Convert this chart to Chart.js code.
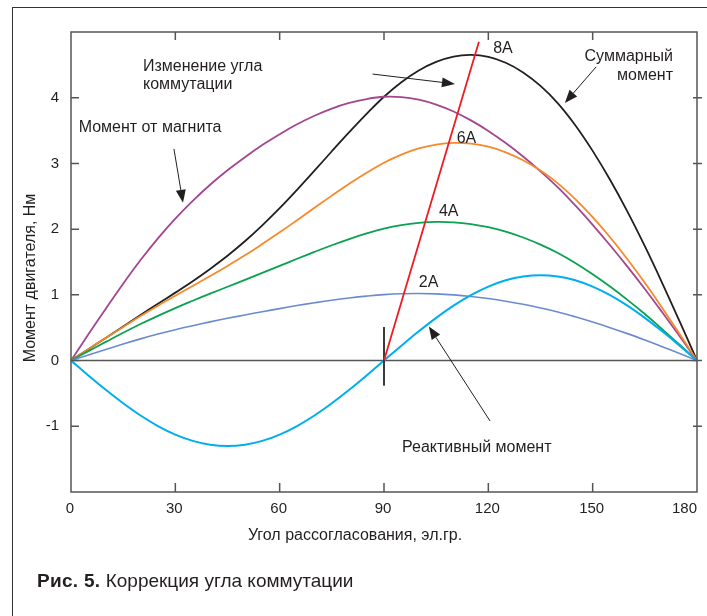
<!DOCTYPE html>
<html>
<head>
<meta charset="utf-8">
<script src="https://cdn.jsdelivr.net/npm/chart.js"></script>
<style>
    html, body { margin: 0; padding: 0; background: #fff; }
    #wrap { position: relative; width: 707px; height: 616px; overflow: hidden; }
    #frame { position: absolute; left: 12px; top: 7px; width: 800px; height: 700px;
             border-top: 1.5px solid #333; border-left: 1.5px solid #333; }
    #graph { position: absolute; left: 0; top: 0; }
    #caption { position: absolute; left: 37px; top: 570px; color: #231f20;
               font: 19px "Liberation Sans", Arial, sans-serif; white-space: nowrap; }
    #caption b { font-weight: 900; letter-spacing: 0.3px; }
</style>
</head>
<body>
<div id="wrap">
    <div id="frame"></div>
    <canvas id="graph" width="707" height="616"></canvas>
    <div id="caption"><b>Рис. 5.</b> Коррекция угла коммутации</div>
</div>
<script>
// angle, el. degrees
const angles = [0, 5, 10, 15, 20, 25, 30, 35, 40, 45, 50, 55, 60, 65, 70, 75, 80, 85, 90,
    95, 100, 105, 110, 115, 120, 125, 130, 135, 140, 145, 150, 155, 160, 165, 170, 175, 180];

// torque, Nm
const magnetMoment = [0, 0.40, 0.79, 1.17, 1.53, 1.86, 2.16, 2.43, 2.675, 2.895, 3.095, 3.28, 3.445, 3.595, 3.725, 3.835, 3.92, 3.98, 4.015,
    4.01, 3.97, 3.895, 3.79, 3.655, 3.495, 3.31, 3.105, 2.88, 2.635, 2.36, 2.065, 1.755, 1.43, 1.09, 0.735, 0.37, 0];
const reactiveMoment = [0, -0.226, -0.445, -0.65, -0.836, -0.996, -1.126, -1.222, -1.28, -1.30, -1.28, -1.222, -1.126, -0.996, -0.836, -0.65, -0.445, -0.226, 0,
    0.226, 0.445, 0.65, 0.836, 0.996, 1.126, 1.222, 1.28, 1.30, 1.28, 1.222, 1.126, 0.996, 0.836, 0.65, 0.445, 0.226, 0];
const total8A = [0, 0.174, 0.345, 0.52, 0.694, 0.864, 1.034, 1.208, 1.395, 1.595, 1.815, 2.058, 2.319, 2.599, 2.889, 3.185, 3.475, 3.754, 4.015,
    4.236, 4.415, 4.545, 4.626, 4.651, 4.621, 4.532, 4.385, 4.18, 3.915, 3.582, 3.191, 2.751, 2.266, 1.74, 1.18, 0.596, 0];
const total6A = [0, 0.173, 0.343, 0.512, 0.678, 0.835, 0.987, 1.136, 1.286, 1.44, 1.601, 1.773, 1.951, 2.136, 2.324, 2.51, 2.69, 2.858, 3.011,
    3.135, 3.228, 3.287, 3.313, 3.301, 3.254, 3.169, 3.049, 2.891, 2.696, 2.457, 2.182, 1.876, 1.543, 1.184, 0.801, 0.405, 0];
const total4A = [0, 0.144, 0.284, 0.423, 0.556, 0.681, 0.799, 0.91, 1.018, 1.123, 1.228, 1.335, 1.441, 1.549, 1.654, 1.755, 1.849, 1.934, 2.008,
    2.062, 2.096, 2.11, 2.104, 2.077, 2.029, 1.961, 1.873, 1.765, 1.638, 1.486, 1.314, 1.127, 0.924, 0.708, 0.477, 0.242, 0];
const total2A = [0, 0.086, 0.17, 0.252, 0.33, 0.403, 0.47, 0.531, 0.589, 0.643, 0.694, 0.744, 0.791, 0.837, 0.879, 0.918, 0.952, 0.981, 1.004,
    1.017, 1.02, 1.015, 1.0, 0.976, 0.944, 0.904, 0.856, 0.801, 0.739, 0.666, 0.586, 0.501, 0.41, 0.313, 0.212, 0.107, 0];

// commutation angle line and the mark at 90
const commAngles = [90, 117.3];
const commValues = [0, 4.85];
const markAngles = [90, 90];
const markValues = [0.51, -0.38];

const xTicks = [0, 30, 60, 90, 120, 150, 180];
const yTicks = [-1, 0, 1, 2, 3, 4];

const FONT = '"Liberation Sans", Arial, sans-serif';

const toPoints = (xs, ys) => xs.map((a, i) => ({ x: a, y: ys[i] }));

function curve(values, color, width) {
    return {
        data: toPoints(angles, values),
        borderColor: color,
        borderWidth: width,
        pointRadius: 0,
        tension: 0.4,
        fill: false
    };
}

// annotations in data coordinates
const labels = [
    { text: "Изменение угла", x: 20.7, y: 4.47, align: "left" },
    { text: "коммутации", x: 20.7, y: 4.20, align: "left" },
    { text: "Момент от магнита", x: 2.2, y: 3.54, align: "left" },
    { text: "Суммарный", x: 173.1, y: 4.62, align: "right" },
    { text: "момент", x: 173.1, y: 4.33, align: "right" },
    { text: "8A", x: 121.4, y: 4.75, align: "left" },
    { text: "6A", x: 110.9, y: 3.38, align: "left" },
    { text: "4A", x: 105.8, y: 2.27, align: "left" },
    { text: "2A", x: 100.0, y: 1.18, align: "left" },
    { text: "Реактивный момент", x: 95.2, y: -1.33, align: "left" }
];
const arrows = [
    { from: [86.7, 4.36], to: [110.4, 4.21] },
    { from: [29.6, 3.22], to: [32.2, 2.40] },
    { from: [151.0, 4.47], to: [142.0, 3.92] },
    { from: [120.5, -0.92], to: [102.9, 0.52] }
];

const decor = {
    id: "decor",
    beforeDatasetsDraw(chart) {
        const { ctx, chartArea: a, scales: { y } } = chart;
        const y0 = y.getPixelForValue(0);
        ctx.save();
        ctx.strokeStyle = "#555";
        ctx.lineWidth = 1.5;
        ctx.beginPath();
        ctx.moveTo(a.left, y0);
        ctx.lineTo(a.right, y0);
        ctx.stroke();
        ctx.restore();
    },
    afterDatasetsDraw(chart) {
        const { ctx, chartArea: a, scales: { x, y } } = chart;
        ctx.save();
        ctx.strokeStyle = "#555";
        ctx.lineWidth = 1.5;
        ctx.strokeRect(a.left, a.top, a.right - a.left, a.bottom - a.top);

        ctx.beginPath();
        xTicks.forEach(v => {
            if (v === 0 || v === 180) return;
            const px = x.getPixelForValue(v);
            ctx.moveTo(px, a.top); ctx.lineTo(px, a.top + 8);
            ctx.moveTo(px, a.bottom); ctx.lineTo(px, a.bottom - 9);
        });
        yTicks.forEach(v => {
            const py = y.getPixelForValue(v);
            ctx.moveTo(a.left, py); ctx.lineTo(a.left + 8, py);
            ctx.moveTo(a.right - 4, py); ctx.lineTo(a.right + 5, py);
        });
        ctx.stroke();

        // x tick labels, the last one kept inside the frame
        ctx.fillStyle = "#231f20";
        ctx.font = "15px " + FONT;
        ctx.textBaseline = "middle";
        xTicks.forEach(v => {
            ctx.textAlign = v === 180 ? "right" : "center";
            const px = v === 180 ? a.right : x.getPixelForValue(v) - 1;
            ctx.fillText(String(v), px, a.bottom + 17);
        });

        // arrows
        ctx.strokeStyle = "#231f20";
        ctx.lineWidth = 1;
        arrows.forEach(ar => {
            const x1 = x.getPixelForValue(ar.from[0]), y1 = y.getPixelForValue(ar.from[1]);
            const x2 = x.getPixelForValue(ar.to[0]), y2 = y.getPixelForValue(ar.to[1]);
            const ang = Math.atan2(y2 - y1, x2 - x1);
            const len = 13, half = 5;
            const bx = x2 - len * Math.cos(ang), by = y2 - len * Math.sin(ang);
            ctx.beginPath();
            ctx.moveTo(x1, y1); ctx.lineTo(bx, by);
            ctx.stroke();
            ctx.beginPath();
            ctx.moveTo(x2, y2);
            ctx.lineTo(bx + half * Math.sin(ang), by - half * Math.cos(ang));
            ctx.lineTo(bx - half * Math.sin(ang), by + half * Math.cos(ang));
            ctx.closePath();
            ctx.fill();
        });

        // labels
        ctx.font = "16px " + FONT;
        labels.forEach(l => {
            ctx.textAlign = l.align;
            ctx.fillText(l.text, x.getPixelForValue(l.x), y.getPixelForValue(l.y));
        });

        // axis titles
        ctx.textAlign = "center";
        ctx.fillText("Угол рассогласования, эл.гр.", 355, 536);
        ctx.translate(31, 278);
        ctx.rotate(-Math.PI / 2);
        ctx.fillText("Момент двигателя, Нм", 0, 0);
        ctx.restore();
    }
};

const chartEl = document.querySelector("#graph").getContext("2d");

const options = {
    type: "line",
    data: {
        datasets: [
            { data: toPoints(commAngles, commValues), borderColor: "#ed1c24", borderWidth: 1.8, pointRadius: 0, tension: 0 },
            { data: toPoints(markAngles, markValues), borderColor: "#231f20", borderWidth: 1, pointRadius: 0, tension: 0 },
            curve(reactiveMoment, "#00aeef", 2),
            curve(total2A, "#6b8bd0", 1.6),
            curve(total4A, "#0aa14f", 1.8),
            curve(total6A, "#f7892a", 1.8),
            curve(magnetMoment, "#a3468f", 1.8),
            curve(total8A, "#231f20", 1.8)
        ]
    },
    options: {
        responsive: false,
        animation: false,
        events: [],
        layout: { padding: { left: 0, right: 10, top: 32, bottom: 0 } },
        plugins: { legend: { display: false }, tooltip: { enabled: false } },
        scales: {
            x: {
                type: "linear",
                min: 0,
                max: 180,
                grid: { display: false, drawTicks: false },
                border: { display: false },
                ticks: { display: false, stepSize: 30 },
                afterFit(scale) {
                    scale.height = 124;
                    scale.paddingLeft = 0;
                    scale.paddingRight = 0;
                }
            },
            y: {
                min: -2,
                max: 5,
                grid: { display: false, drawTicks: false },
                border: { display: false },
                ticks: {
                    stepSize: 1,
                    padding: 12,
                    color: "#231f20",
                    font: { family: FONT, size: 15 },
                    callback: v => (yTicks.includes(v) ? String(v) : "")
                },
                afterFit(scale) {
                    scale.width = 71;
                    scale.paddingTop = 0;
                    scale.paddingBottom = 0;
                }
            }
        }
    },
    plugins: [decor]
};

// eslint-disable-next-line no-unused-vars
let chart = new Chart(chartEl, options);
</script>
</body>
</html>
